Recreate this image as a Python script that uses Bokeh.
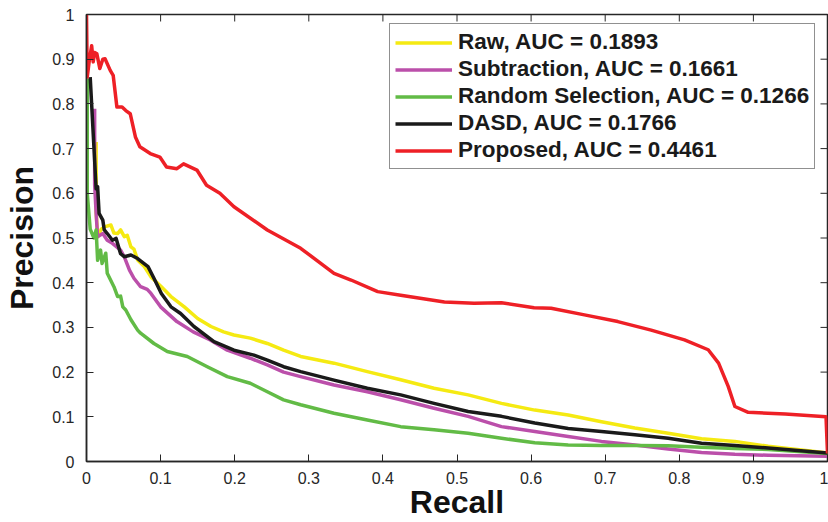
from bokeh.plotting import figure
from bokeh.models import Legend, LegendItem, FixedTicker, Range1d
from bokeh.embed import file_html
from bokeh.resources import INLINE

# ---- data ----
raw_recall = [0.013, 0.013, 0.015, 0.020, 0.024, 0.033, 0.037, 0.042, 0.046, 0.051, 0.055, 0.060,
              0.064, 0.069, 0.078, 0.087, 0.101, 0.114, 0.132, 0.150, 0.168, 0.185, 0.199, 0.221,
              0.244, 0.266, 0.289, 0.334, 0.379, 0.424, 0.469, 0.515, 0.560, 0.605, 0.650, 0.695,
              0.740, 0.785, 0.830, 0.875, 0.920, 0.965, 1.000]
raw_precision = [0.715, 0.560, 0.503, 0.520, 0.525, 0.529, 0.511, 0.510, 0.518, 0.503, 0.506, 0.480,
                 0.475, 0.451, 0.436, 0.413, 0.391, 0.369, 0.346, 0.320, 0.302, 0.290, 0.283, 0.276,
                 0.264, 0.249, 0.235, 0.220, 0.201, 0.183, 0.164, 0.149, 0.130, 0.115, 0.104, 0.089,
                 0.075, 0.063, 0.051, 0.045, 0.034, 0.026, 0.019]

sub_recall = [0.011, 0.011, 0.013, 0.015, 0.022, 0.028, 0.035, 0.046, 0.051, 0.058, 0.064, 0.073,
              0.082, 0.087, 0.100, 0.122, 0.144, 0.167, 0.190, 0.221, 0.244, 0.266, 0.289, 0.334,
              0.379, 0.424, 0.469, 0.515, 0.560, 0.605, 0.650, 0.695, 0.740, 0.785, 0.830, 0.875,
              0.920, 1.000]
sub_precision = [0.789, 0.620, 0.555, 0.503, 0.510, 0.495, 0.488, 0.473, 0.458, 0.428, 0.410, 0.391,
                 0.385, 0.376, 0.346, 0.313, 0.290, 0.272, 0.249, 0.231, 0.216, 0.200, 0.190, 0.171,
                 0.156, 0.138, 0.119, 0.101, 0.078, 0.067, 0.056, 0.045, 0.037, 0.028, 0.020, 0.016,
                 0.014, 0.012]

rand_recall = [0.001, 0.001, 0.005, 0.010, 0.013, 0.015, 0.019, 0.021, 0.026, 0.028, 0.037, 0.042,
               0.046, 0.049, 0.053, 0.060, 0.069, 0.073, 0.091, 0.109, 0.136, 0.163, 0.190, 0.221,
               0.244, 0.266, 0.289, 0.334, 0.379, 0.424, 0.469, 0.515, 0.560, 0.605, 0.650, 0.695,
               0.740, 0.785, 0.830, 0.875, 0.920, 1.000]
rand_precision = [0.857, 0.600, 0.520, 0.500, 0.518, 0.450, 0.473, 0.443, 0.466, 0.421, 0.391, 0.369,
                  0.370, 0.346, 0.339, 0.317, 0.294, 0.287, 0.264, 0.246, 0.235, 0.212, 0.190, 0.175,
                  0.156, 0.138, 0.127, 0.108, 0.093, 0.078, 0.071, 0.063, 0.052, 0.042, 0.037, 0.036,
                  0.036, 0.035, 0.032, 0.029, 0.027, 0.018]

dasd_recall = [0.005, 0.013, 0.015, 0.017, 0.022, 0.024, 0.028, 0.035, 0.040, 0.046, 0.051, 0.060,
               0.069, 0.083, 0.091, 0.101, 0.114, 0.127, 0.145, 0.172, 0.199, 0.226, 0.244, 0.266,
               0.289, 0.334, 0.379, 0.424, 0.469, 0.515, 0.560, 0.605, 0.650, 0.695, 0.740, 0.785,
               0.830, 0.875, 0.920, 1.000]
dasd_precision = [0.860, 0.610, 0.615, 0.555, 0.540, 0.518, 0.510, 0.495, 0.499, 0.465, 0.458, 0.462,
                  0.454, 0.436, 0.410, 0.376, 0.346, 0.331, 0.302, 0.268, 0.249, 0.238, 0.227, 0.212,
                  0.201, 0.182, 0.164, 0.149, 0.130, 0.112, 0.101, 0.086, 0.074, 0.067, 0.060, 0.052,
                  0.041, 0.036, 0.030, 0.019]

prop_recall = [0.000, 0.001, 0.004, 0.007, 0.009, 0.011, 0.014, 0.018, 0.022, 0.025, 0.032, 0.036,
               0.041, 0.048, 0.053, 0.059, 0.066, 0.072, 0.086, 0.099, 0.108, 0.122, 0.131, 0.149,
               0.162, 0.180, 0.199, 0.244, 0.289, 0.334, 0.357, 0.393, 0.424, 0.483, 0.523, 0.560,
               0.604, 0.627, 0.672, 0.717, 0.762, 0.807, 0.839, 0.853, 0.866, 0.875, 0.893, 0.943,
               0.998, 1.000]
prop_precision = [1.000, 0.860, 0.900, 0.930, 0.894, 0.915, 0.912, 0.879, 0.900, 0.901, 0.875, 0.864,
                  0.793, 0.793, 0.785, 0.778, 0.726, 0.704, 0.689, 0.681, 0.659, 0.655, 0.666, 0.652,
                  0.618, 0.600, 0.570, 0.518, 0.477, 0.421, 0.406, 0.380, 0.372, 0.357, 0.354, 0.355,
                  0.344, 0.343, 0.328, 0.313, 0.294, 0.272, 0.250, 0.220, 0.168, 0.123, 0.110, 0.106,
                  0.100, 0.018]

series_labels = ["Raw, AUC = 0.1893", "Subtraction, AUC = 0.1661",
                 "Random Selection, AUC = 0.1266", "DASD, AUC = 0.1766",
                 "Proposed, AUC = 0.4461"]
series_colors = ["#F5EA12", "#BB4FAA", "#62BB46", "#1A1A1A", "#EE2026"]

x_ticks = [0, 0.1, 0.2, 0.3, 0.4, 0.5, 0.6, 0.7, 0.8, 0.9, 1]
x_tick_labels = ["0", "0.1", "0.2", "0.3", "0.4", "0.5", "0.6", "0.7", "0.8", "0.9", "1"]
y_ticks = [0, 0.1, 0.2, 0.3, 0.4, 0.5, 0.6, 0.7, 0.8, 0.9, 1]
y_tick_labels = ["0", "0.1", "0.2", "0.3", "0.4", "0.5", "0.6", "0.7", "0.8", "0.9", "1"]

FONT = "Liberation Sans"
AXIS_COLOR = "#262626"
FRAME_W, FRAME_H = 741, 448
TICK_LEN = 7

p = figure(width=828, height=522, output_backend="svg", toolbar_location=None,
           x_range=Range1d(0, 1), y_range=Range1d(0, 1),
           min_border_left=86, min_border_top=14, min_border_right=1, min_border_bottom=60,
           background_fill_color="white", border_fill_color="white")
p.xgrid.grid_line_color = None
p.ygrid.grid_line_color = None
p.outline_line_color = AXIS_COLOR
p.outline_line_width = 1.5

# main axes
p.xaxis.ticker = FixedTicker(ticks=x_ticks)
p.yaxis.ticker = FixedTicker(ticks=y_ticks)
p.xaxis.major_label_overrides = {t: l for t, l in zip(x_ticks, x_tick_labels)}
p.yaxis.major_label_overrides = {t: l for t, l in zip(y_ticks, y_tick_labels)}
p.xaxis.axis_label = "Recall"
p.yaxis.axis_label = "Precision"
for ax in (p.xaxis, p.yaxis):
    ax.major_tick_in = TICK_LEN
    ax.major_tick_out = 0
    ax.minor_tick_line_color = None
    ax.axis_line_color = AXIS_COLOR
    ax.axis_line_width = 1.5
    ax.major_tick_line_color = AXIS_COLOR
    ax.major_label_text_font = FONT
    ax.major_label_text_font_size = "16px"
    ax.major_label_text_color = AXIS_COLOR
    ax.axis_label_text_font = FONT
    ax.axis_label_text_font_style = "bold"
    ax.axis_label_text_font_size = "32px"
    ax.axis_label_text_color = "#111111"
p.xaxis.major_label_standoff = 10
p.xaxis.axis_label_standoff = -3
p.yaxis.major_label_standoff = 12
p.yaxis.axis_label_standoff = 9

# inward tick marks on the top and right edges of the box
top_len = TICK_LEN / FRAME_H
right_len = TICK_LEN / FRAME_W
p.segment(x0=x_ticks, y0=[1] * len(x_ticks), x1=x_ticks, y1=[1 - top_len] * len(x_ticks),
          line_color=AXIS_COLOR, line_width=1)
p.segment(x0=[1] * len(y_ticks), y0=y_ticks, x1=[1 - right_len] * len(y_ticks), y1=y_ticks,
          line_color=AXIS_COLOR, line_width=1)

xs = [raw_recall, sub_recall, rand_recall, dasd_recall, prop_recall]
ys = [raw_precision, sub_precision, rand_precision, dasd_precision, prop_precision]
items = []
for x, y, lab, col in zip(xs, ys, series_labels, series_colors):
    r = p.line(x, y, line_color=col, line_width=3.5, line_join="round")
    items.append(LegendItem(label=lab, renderers=[r]))

legend = Legend(items=items, location=(303, 292), margin=0, padding=5, spacing=1,
                label_height=23, glyph_height=23, glyph_width=57, label_standoff=6,
                label_text_font=FONT, label_text_font_style="bold", label_text_font_size="22.5px",
                label_text_color="#1A1A1A", border_line_color="#222222", border_line_width=1.5,
                background_fill_color="white", background_fill_alpha=1.0)
p.add_layout(legend)

open("out.html", "w").write(file_html(p, INLINE))
